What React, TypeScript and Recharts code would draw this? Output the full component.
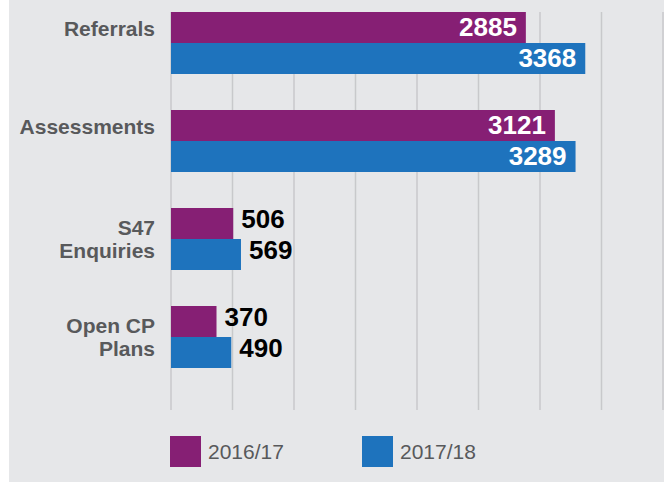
import { BarChart, Bar, XAxis, YAxis, CartesianGrid, Legend, LabelList } from "recharts";

const categories = ["Referrals", "Assessments", "S47\nEnquiries", "Open CP\nPlans"];
const values1617 = [2885, 3121, 506, 370];
const values1718 = [3368, 3289, 569, 490];
const xTicks = [0, 500, 1000, 1500, 2000, 2500, 3000, 3500, 4000];

const seriesNames = ["2016/17", "2017/18"];
const PURPLE = "#861f74";
const BLUE = "#1e73bd";
const FONT = "'Liberation Sans', Arial, Helvetica, sans-serif";

const data = categories.map((name, i) => ({
  name,
  y1617: values1617[i],
  y1718: values1718[i],
}));

function CategoryTick(props: any) {
  const { x, y, payload } = props;
  const lines = String(payload.value).split("\n");
  // one-line names sit above the group centre, two-line ones are centred on it
  const first = lines.length === 1 ? -7.5 : -4.5;
  return (
    <text
      x={x}
      y={y}
      textAnchor="end"
      fill="#58595b"
      fontFamily={FONT}
      fontSize={21}
      fontWeight="bold"
    >
      {lines.map((l, i) => (
        <tspan key={i} x={x} y={y + first + i * 23}>
          {l}
        </tspan>
      ))}
    </text>
  );
}

function ValueLabel(props: any) {
  const { x, y, width, height, value } = props;
  const inside = value >= 1000;
  return (
    <text
      x={inside ? x + width - 9 : x + width + 8}
      y={y + height / 2 + (inside ? 8.5 : 4.5)}
      textAnchor={inside ? "end" : "start"}
      fill={inside ? "#ffffff" : "#000000"}
      fontFamily={FONT}
      fontSize={26}
      fontWeight="bold"
    >
      {value}
    </text>
  );
}

function LegendBox() {
  const colors = [PURPLE, BLUE];
  return (
    <div style={{ display: "flex", paddingTop: 26, paddingLeft: 161, height: 31 }}>
      {seriesNames.map((s, i) => (
        <div key={s} style={{ display: "flex", alignItems: "center", width: 192 }}>
          <div style={{ width: 31, height: 31, background: colors[i] }} />
          <span
            style={{
              marginLeft: 7,
              fontFamily: FONT,
              fontSize: 21,
              color: "#58595b",
              lineHeight: "31px",
            }}
          >
            {s}
          </span>
        </div>
      ))}
    </div>
  );
}

export default function App() {
  return (
    <div
      style={{
        position: "absolute",
        left: 9,
        top: 0,
        width: 655,
        height: 482,
        background: "#e6e7e9",
      }}
    >
      <BarChart
        width={655}
        height={482}
        data={data}
        layout="vertical"
        margin={{ top: 12, right: 1, bottom: 15, left: 0 }}
        barCategoryGap={18}
        barGap={0}
      >
        <CartesianGrid horizontal={false} stroke="#c8c9cb" strokeWidth={1.5} />
        <XAxis type="number" domain={[0, 4000]} ticks={xTicks} hide />
        <YAxis
          type="category"
          dataKey="name"
          width={162}
          axisLine={false}
          tickLine={false}
          tickSize={0}
          tickMargin={16}
          interval={0}
          padding={{ top: -18, bottom: 24 }}
          tick={<CategoryTick />}
        />
        <Legend verticalAlign="bottom" content={() => <LegendBox />} />
        <Bar dataKey="y1617" name={seriesNames[0]} fill={PURPLE} isAnimationActive={false}>
          <LabelList dataKey="y1617" content={<ValueLabel />} />
        </Bar>
        <Bar dataKey="y1718" name={seriesNames[1]} fill={BLUE} isAnimationActive={false}>
          <LabelList dataKey="y1718" content={<ValueLabel />} />
        </Bar>
      </BarChart>
    </div>
  );
}
